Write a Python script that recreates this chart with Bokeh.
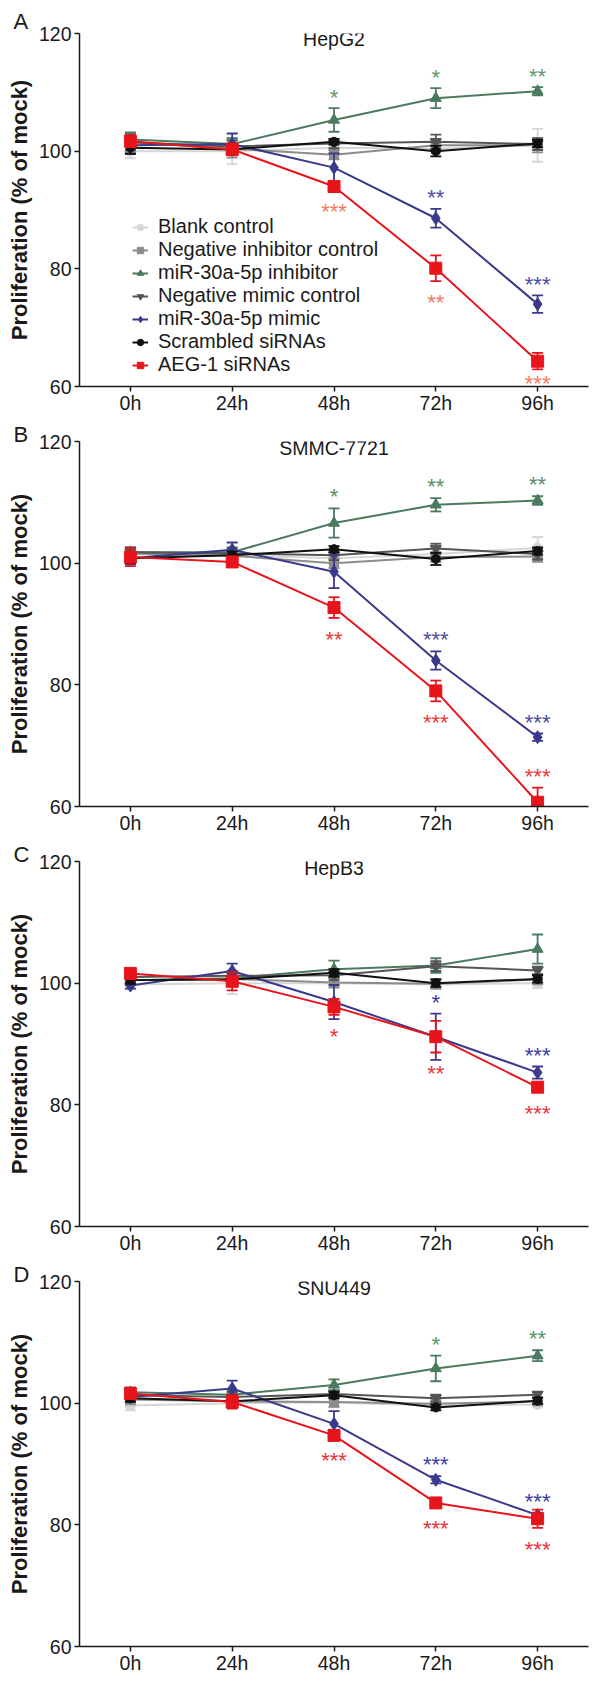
from bokeh.plotting import figure
from bokeh.models import FixedTicker, Label, Legend, LegendItem, ColumnDataSource, Title
from bokeh.layouts import column
from bokeh.embed import file_html
from bokeh.resources import INLINE
from bokeh.core.properties import value

# ---------------- data ----------------
hours = ["0h", "24h", "48h", "72h", "96h"]
series_names = ["Blank control", "Negative inhibitor control", "miR-30a-5p inhibitor",
                "Negative mimic control", "miR-30a-5p mimic", "Scrambled siRNAs", "AEG-1 siRNAs"]
panel_titles = ["HepG2", "SMMC-7721", "HepB3", "SNU449"]
panel_letters = ["A", "B", "C", "D"]

# HepG2
hepg2_blank = [100.0, 100.0, 100.6, 100.4, 101.0]
hepg2_blank_err = [1.2, 2.2, 0.8, 0.8, 2.8]
hepg2_neg_inh = [101.5, 100.4, 99.4, 101.0, 101.0]
hepg2_neg_inh_err = [1.5, 1.5, 0.8, 1.0, 1.2]
hepg2_inh = [102.0, 101.2, 105.3, 109.0, 110.2]
hepg2_inh_err = [1.2, 1.0, 2.0, 1.7, 0.7]
hepg2_neg_mim = [101.5, 100.8, 101.3, 101.6, 101.2]
hepg2_neg_mim_err = [1.3, 1.0, 0.8, 1.2, 1.0]
hepg2_mim = [101.0, 101.2, 97.2, 88.6, 74.0]
hepg2_mim_err = [1.5, 1.8, 2.4, 1.6, 1.5]
hepg2_scr = [100.6, 100.3, 101.6, 100.0, 101.3]
hepg2_scr_err = [1.0, 0.8, 0.5, 0.9, 0.6]
hepg2_aeg = [101.7, 100.3, 94.0, 80.1, 64.3]
hepg2_aeg_err = [1.0, 1.0, 0.7, 2.2, 1.4]
hepg2_sig_series = [2, 2, 2, 4, 4, 6, 6, 6]
hepg2_sig_hour = [2, 3, 4, 3, 4, 2, 3, 4]
hepg2_sig_text = ["*", "*", "**", "**", "***", "***", "**", "***"]
hepg2_sig_side = [1, 1, 1, 1, 1, -1, -1, -1]

# SMMC-7721
smmc_blank = [101.5, 101.3, 100.8, 101.5, 102.5]
smmc_blank_err = [0.8, 0.8, 0.8, 1.0, 1.8]
smmc_neg_inh = [101.6, 101.2, 100.0, 101.0, 101.1]
smmc_neg_inh_err = [0.8, 0.8, 0.8, 0.8, 0.9]
smmc_inh = [101.8, 101.8, 106.6, 109.6, 110.3]
smmc_inh_err = [0.8, 0.8, 2.4, 1.1, 0.7]
smmc_neg_mim = [101.8, 101.6, 101.3, 102.4, 101.5]
smmc_neg_mim_err = [0.8, 0.8, 0.8, 0.8, 0.9]
smmc_mim = [100.8, 102.2, 98.6, 84.0, 71.4]
smmc_mim_err = [1.0, 1.2, 2.7, 1.5, 0.6]
smmc_scr = [100.8, 101.3, 102.3, 100.7, 102.0]
smmc_scr_err = [0.8, 0.6, 0.5, 1.0, 0.6]
smmc_aeg = [101.0, 100.2, 92.7, 79.0, 60.7]
smmc_aeg_err = [1.5, 0.6, 1.7, 1.7, 2.4]
smmc_sig_series = [2, 2, 2, 4, 4, 6, 6, 6]
smmc_sig_hour = [2, 3, 4, 3, 4, 2, 3, 4]
smmc_sig_text = ["*", "**", "**", "***", "***", "**", "***", "***"]
smmc_sig_side = [1, 1, 1, 1, 1, -1, -1, 1]

# HepB3
hepb3_blank = [99.8, 100.0, 100.0, 99.8, 100.0]
hepb3_blank_err = [0.8, 1.8, 0.8, 0.8, 0.8]
hepb3_neg_inh = [100.5, 100.7, 100.1, 99.9, 100.6]
hepb3_neg_inh_err = [0.8, 1.0, 0.8, 0.8, 0.8]
hepb3_inh = [100.5, 100.8, 102.3, 102.9, 105.6]
hepb3_inh_err = [0.8, 0.8, 1.4, 1.2, 2.4]
hepb3_neg_mim = [101.0, 101.2, 101.3, 102.8, 102.1]
hepb3_neg_mim_err = [0.8, 0.8, 0.8, 0.8, 0.6]
hepb3_mim = [99.6, 102.0, 96.9, 91.2, 85.3]
hepb3_mim_err = [0.5, 1.2, 2.8, 3.8, 1.0]
hepb3_scr = [100.5, 100.6, 101.7, 100.0, 100.7]
hepb3_scr_err = [0.6, 0.6, 0.6, 0.6, 0.6]
hepb3_aeg = [101.6, 100.3, 96.1, 91.2, 82.9]
hepb3_aeg_err = [0.8, 1.5, 1.3, 2.6, 0.8]
hepb3_sig_series = [4, 4, 6, 6, 6]
hepb3_sig_hour = [3, 4, 2, 3, 4]
hepb3_sig_text = ["*", "***", "*", "**", "***"]
hepb3_sig_side = [1, 1, -1, -1, -1]

# SNU449
snu_blank = [99.6, 100.0, 100.1, 99.6, 99.8]
snu_blank_err = [0.8, 0.8, 0.8, 0.5, 0.5]
snu_neg_inh = [100.6, 100.3, 100.2, 99.9, 100.3]
snu_neg_inh_err = [0.8, 0.8, 0.8, 0.6, 0.6]
snu_inh = [101.8, 101.4, 103.0, 105.7, 107.8]
snu_inh_err = [0.8, 0.6, 0.9, 2.1, 0.9]
snu_neg_mim = [101.3, 101.0, 101.5, 100.8, 101.4]
snu_neg_mim_err = [0.8, 0.8, 0.6, 0.6, 0.5]
snu_mim = [101.0, 102.4, 96.6, 87.4, 81.6]
snu_mim_err = [0.8, 1.3, 2.1, 0.6, 0.4]
snu_scr = [100.8, 100.3, 101.3, 99.3, 100.4]
snu_scr_err = [0.6, 1.0, 0.5, 0.5, 0.5]
snu_aeg = [101.6, 100.2, 94.7, 83.6, 81.0]
snu_aeg_err = [0.8, 1.1, 0.6, 0.6, 1.5]
snu_sig_series = [2, 2, 4, 4, 6, 6, 6]
snu_sig_hour = [3, 4, 3, 4, 2, 3, 4]
snu_sig_text = ["*", "**", "***", "***", "***", "***", "***"]
snu_sig_side = [1, 1, 1, 1, -1, -1, -1]

# ---------------- styles ----------------
FONT = "Liberation Sans"
series_colors = ["#d6d6d6", "#8c8c8c", "#4b7a5f", "#555555", "#3a3a8c", "#111111", "#e8141c"]
series_markers = ["circle", "square", "triangle", "inverted_triangle", "diamond", "circle", "square"]
series_sizes = [10, 9, 11, 11, 13, 9, 12]
sig_colors = [
    {2: "#5e9972", 4: "#4c4ca6", 6: "#f4795b"},
    {2: "#5b8c6a", 4: "#4d4d9e", 6: "#e83a3a"},
    {2: "#5b8c6a", 4: "#3a3aa8", 6: "#e8363c"},
    {2: "#4e9a68", 4: "#3d3da3", 6: "#e8323a"},
]
SIG_PAD = 2.7      # gap (data units) between error bar end and asterisks
SIG_FLOOR = 61.4   # keep asterisks above the x axis

panels = [
    dict(vals=[hepg2_blank, hepg2_neg_inh, hepg2_inh, hepg2_neg_mim, hepg2_mim, hepg2_scr, hepg2_aeg],
         errs=[hepg2_blank_err, hepg2_neg_inh_err, hepg2_inh_err, hepg2_neg_mim_err, hepg2_mim_err, hepg2_scr_err, hepg2_aeg_err],
         sig=(hepg2_sig_series, hepg2_sig_hour, hepg2_sig_text, hepg2_sig_side)),
    dict(vals=[smmc_blank, smmc_neg_inh, smmc_inh, smmc_neg_mim, smmc_mim, smmc_scr, smmc_aeg],
         errs=[smmc_blank_err, smmc_neg_inh_err, smmc_inh_err, smmc_neg_mim_err, smmc_mim_err, smmc_scr_err, smmc_aeg_err],
         sig=(smmc_sig_series, smmc_sig_hour, smmc_sig_text, smmc_sig_side)),
    dict(vals=[hepb3_blank, hepb3_neg_inh, hepb3_inh, hepb3_neg_mim, hepb3_mim, hepb3_scr, hepb3_aeg],
         errs=[hepb3_blank_err, hepb3_neg_inh_err, hepb3_inh_err, hepb3_neg_mim_err, hepb3_mim_err, hepb3_scr_err, hepb3_aeg_err],
         sig=(hepb3_sig_series, hepb3_sig_hour, hepb3_sig_text, hepb3_sig_side)),
    dict(vals=[snu_blank, snu_neg_inh, snu_inh, snu_neg_mim, snu_mim, snu_scr, snu_aeg],
         errs=[snu_blank_err, snu_neg_inh_err, snu_inh_err, snu_neg_mim_err, snu_mim_err, snu_scr_err, snu_aeg_err],
         sig=(snu_sig_series, snu_sig_hour, snu_sig_text, snu_sig_side)),
]

# layout (frame heights / borders per panel), page has no margin in bokeh template
frame_heights = [353, 365, 365, 365]
borders_top = [33, 21, 21, 21]
borders_bottom = [34, 34, 34, 35]
letter_standoff = [-5, -14, -14, -14]

x_idx = list(range(len(hours)))
figs = []
for k, pan in enumerate(panels):
    p = figure(frame_width=509, frame_height=frame_heights[k],
               x_range=(-0.5, 4.5), y_range=(60, 120),
               output_backend="svg", toolbar_location=None,
               min_border_left=79, min_border_right=12,
               min_border_top=borders_top[k], min_border_bottom=borders_bottom[k])
    p.outline_line_color = None
    p.xgrid.visible = False
    p.ygrid.visible = False
    p.background_fill_color = "white"
    p.border_fill_color = "white"

    p.xaxis.ticker = FixedTicker(ticks=x_idx)
    p.xaxis.major_label_overrides = {i: h for i, h in zip(x_idx, hours)}
    p.yaxis.ticker = FixedTicker(ticks=[60, 80, 100, 120])
    for ax in (p.xaxis[0], p.yaxis[0]):
        ax.axis_line_width = 1.5
        ax.axis_line_color = "#1a1a1a"
        ax.major_tick_line_width = 1.5
        ax.major_tick_line_color = "#1a1a1a"
        ax.major_tick_out = 5
        ax.major_tick_in = 0
        ax.minor_tick_line_color = None
        ax.major_label_text_font = FONT
        ax.major_label_text_font_size = "19.5px"
        ax.major_label_text_color = "#1a1a1a"
    p.xaxis.major_label_standoff = 0
    p.yaxis.major_label_standoff = 3
    p.yaxis.axis_label = "Proliferation (% of mock)"
    p.yaxis.axis_label_text_font = FONT
    p.yaxis.axis_label_text_font_style = "bold"
    p.yaxis.axis_label_text_font_size = "22px"
    p.yaxis.axis_label_text_color = "#1a1a1a"
    p.yaxis.axis_label_standoff = 4

    items = []
    for i in range(len(series_names)):
        vals = pan["vals"][i]
        errs = pan["errs"][i]
        c = series_colors[i]
        src = ColumnDataSource(dict(x=x_idx, y=vals,
                                    lo=[v - e for v, e in zip(vals, errs)],
                                    hi=[v + e for v, e in zip(vals, errs)]))
        p.segment(x0="x", y0="lo", x1="x", y1="hi", source=src, line_color=c, line_width=1.8)
        p.scatter("x", "lo", source=src, marker="dash", size=11, line_color=c, line_width=1.8)
        p.scatter("x", "hi", source=src, marker="dash", size=11, line_color=c, line_width=1.8)
        ln = p.line("x", "y", source=src, line_color=c, line_width=2)
        pts = p.scatter("x", "y", source=src, marker=series_markers[i], size=series_sizes[i],
                        fill_color=c, line_color=c)
        items.append(LegendItem(label=series_names[i], renderers=[ln, pts]))

    # significance asterisks
    s_series, s_hour, s_text, s_side = pan["sig"]
    sx, sy, scol = [], [], []
    for si, hi_, side in zip(s_series, s_hour, s_side):
        v = pan["vals"][si][hi_]
        e = pan["errs"][si][hi_]
        sx.append(hi_)
        sy.append(max(v + side * (e + SIG_PAD), SIG_FLOOR))
        scol.append(sig_colors[k][si])
    ssrc = ColumnDataSource(dict(x=sx, y=sy, t=s_text, col=scol))
    p.text(x="x", y="y", text="t", source=ssrc, y_offset=5, text_color="col",
           text_font=value(FONT), text_font_size="22px", text_align="center",
           text_baseline="middle")

    p.add_layout(Label(x=2, y=119, text=panel_titles[k], text_font=FONT,
                       text_font_size="19.5px", text_align="center", text_baseline="middle",
                       text_color="#1a1a1a"))
    p.add_layout(Title(text=panel_letters[k], align="left", vertical_align="top",
                       offset=-66, standoff=letter_standoff[k], text_font=FONT,
                       text_font_size="22px", text_font_style="normal",
                       text_color="#1a1a1a"), "above")

    if k == 0:
        leg = Legend(items=items, location=(53, 10), orientation="vertical",
                     label_text_font=FONT, label_text_font_size="20px",
                     label_text_color="#1a1a1a",
                     glyph_width=16, glyph_height=20, label_height=20, spacing=-2,
                     label_standoff=10, padding=0, margin=0,
                     border_line_color=None, background_fill_alpha=0)
        p.add_layout(leg)
    figs.append(p)

layout = column(*figs, spacing=0)
open("out.html", "w").write(file_html(layout, INLINE))
